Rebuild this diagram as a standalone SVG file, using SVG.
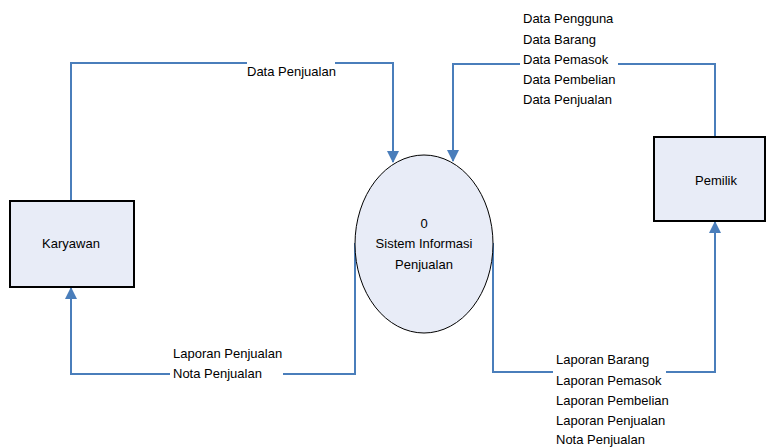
<svg xmlns="http://www.w3.org/2000/svg" width="767" height="447" viewBox="0 0 767 447">
<style>
.box{fill:#E8ECF7;stroke:#000;stroke-width:2}
.ln{fill:none;stroke:#4A7EBB;stroke-width:2}
text{font-family:"Liberation Sans",Arial,sans-serif;font-size:13px;fill:#000}
.c{text-anchor:middle}
</style>
<defs>
<marker id="ah" markerWidth="12" markerHeight="12" viewBox="0 0 12 12" refX="11" refY="6" orient="auto" markerUnits="userSpaceOnUse">
<path d="M0,0 L12,6 L0,12 Z" fill="#4A7EBB"/>
</marker>
</defs>
<rect width="767" height="447" fill="#fff"/>
<g id="connectors">
<polyline class="ln" points="71,201 71,63 247,63"/>
<polyline class="ln" points="335,63 393,63 393,162" marker-end="url(#ah)"/>
<polyline class="ln" points="715,137 715,64 618,64"/>
<polyline class="ln" points="520,64 453,64 453,161" marker-end="url(#ah)"/>
<polyline class="ln" points="355,243 355,374 283,374"/>
<polyline class="ln" points="170,374 71,374 71,288" marker-end="url(#ah)"/>
<polyline class="ln" points="493,243 493,372 553,372"/>
<polyline class="ln" points="666,372 715,372 715,222" marker-end="url(#ah)"/>
</g>
<g id="karyawan">
<rect class="box" x="10" y="201" width="124" height="86"/>
<text class="c" x="71" y="248">Karyawan</text>
</g>
<g id="pemilik">
<rect class="box" x="654" y="137" width="111" height="84"/>
<text class="c" x="716" y="185">Pemilik</text>
</g>
<g id="sistem">
<ellipse cx="424" cy="244" rx="69" ry="89" fill="#E8ECF7" stroke="#000" stroke-width="1"/>
<text class="c" x="424" y="228">0</text>
<text class="c" x="424" y="248">Sistem Informasi</text>
<text class="c" x="424" y="269">Penjualan</text>
</g>
<g id="labels">
<text x="247" y="76">Data Penjualan</text>
<text x="523" y="23">Data Pengguna</text>
<text x="523" y="44">Data Barang</text>
<text x="523" y="64">Data Pemasok</text>
<text x="523" y="84">Data Pembelian</text>
<text x="523" y="104">Data Penjualan</text>
<text x="173" y="358">Laporan Penjualan</text>
<text x="173" y="378">Nota Penjualan</text>
<text x="556" y="364">Laporan Barang</text>
<text x="556" y="385">Laporan Pemasok</text>
<text x="556" y="405">Laporan Pembelian</text>
<text x="556" y="425">Laporan Penjualan</text>
<text x="556" y="444">Nota Penjualan</text>
</g>
</svg>
